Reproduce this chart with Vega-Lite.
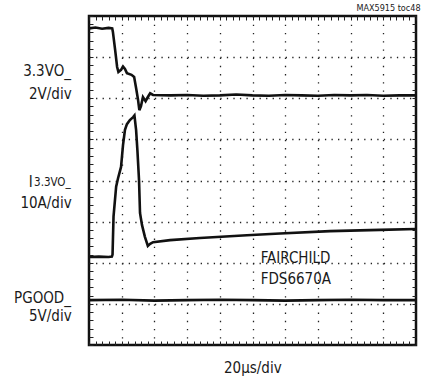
{
  "$schema": "https://vega.github.io/schema/vega-lite/v6.json",
  "width": 327,
  "height": 329,
  "autosize": {"type": "none"},
  "padding": {"left": 89, "top": 16, "right": 5, "bottom": 35},
  "background": "white",
  "config": {
    "view": {"stroke": "#111", "strokeWidth": 2.5},
    "font": "DejaVu Sans Condensed, Roboto",
    "text": {"font": "DejaVu Sans Condensed, Roboto", "color": "#1a1a1a", "baseline": "alphabetic"}
  },
  "layer": [
    {
      "data": {"values": [
        {"s":"V","t":0,"v":7.70},{"s":"V","t":0.2,"v":7.72},{"s":"V","t":0.4,"v":7.69},{"s":"V","t":0.6,"v":7.71},{"s":"V","t":0.71,"v":7.70},
        {"s":"V","t":0.73,"v":7.62},{"s":"V","t":0.80,"v":7.17},{"s":"V","t":0.86,"v":6.76},{"s":"V","t":0.90,"v":6.64},{"s":"V","t":0.98,"v":6.69},
        {"s":"V","t":1.04,"v":6.77},{"s":"V","t":1.10,"v":6.71},{"s":"V","t":1.16,"v":6.61},{"s":"V","t":1.30,"v":6.57},{"s":"V","t":1.38,"v":6.52},
        {"s":"V","t":1.44,"v":6.25},{"s":"V","t":1.50,"v":5.96},{"s":"V","t":1.54,"v":5.71},{"s":"V","t":1.59,"v":5.81},{"s":"V","t":1.65,"v":6.03},
        {"s":"V","t":1.73,"v":5.93},{"s":"V","t":1.80,"v":6.03},{"s":"V","t":1.87,"v":6.12},{"s":"V","t":1.96,"v":6.08},{"s":"V","t":2.5,"v":6.07},
        {"s":"V","t":3,"v":6.08},{"s":"V","t":3.5,"v":6.06},{"s":"V","t":4,"v":6.07},{"s":"V","t":4.5,"v":6.09},{"s":"V","t":5,"v":6.07},
        {"s":"V","t":5.5,"v":6.06},{"s":"V","t":6,"v":6.08},{"s":"V","t":6.5,"v":6.07},{"s":"V","t":7,"v":6.06},{"s":"V","t":7.5,"v":6.08},
        {"s":"V","t":8,"v":6.07},{"s":"V","t":8.5,"v":6.08},{"s":"V","t":9,"v":6.06},{"s":"V","t":9.5,"v":6.07},{"s":"V","t":10,"v":6.07},
        {"s":"I","t":0,"v":2.14},{"s":"I","t":0.3,"v":2.15},{"s":"I","t":0.6,"v":2.14},{"s":"I","t":0.70,"v":2.15},{"s":"I","t":0.72,"v":2.2},
        {"s":"I","t":0.75,"v":3.12},{"s":"I","t":0.83,"v":3.85},{"s":"I","t":0.89,"v":4.06},{"s":"I","t":0.98,"v":4.33},{"s":"I","t":1.04,"v":4.86},
        {"s":"I","t":1.10,"v":5.23},{"s":"I","t":1.16,"v":5.37},{"s":"I","t":1.25,"v":5.47},{"s":"I","t":1.35,"v":5.54},{"s":"I","t":1.39,"v":5.58},
        {"s":"I","t":1.44,"v":5.23},{"s":"I","t":1.48,"v":4.74},{"s":"I","t":1.53,"v":4.01},{"s":"I","t":1.56,"v":3.21},{"s":"I","t":1.62,"v":2.92},
        {"s":"I","t":1.71,"v":2.63},{"s":"I","t":1.80,"v":2.41},{"s":"I","t":1.87,"v":2.46},{"s":"I","t":1.96,"v":2.50},{"s":"I","t":2.48,"v":2.55},
        {"s":"I","t":3.39,"v":2.60},{"s":"I","t":4.83,"v":2.67},{"s":"I","t":5.84,"v":2.71},{"s":"I","t":7.37,"v":2.77},{"s":"I","t":8.90,"v":2.80},
        {"s":"I","t":10,"v":2.82},
        {"s":"P","t":0,"v":1.09},{"s":"P","t":1,"v":1.10},{"s":"P","t":2,"v":1.08},{"s":"P","t":3,"v":1.09},{"s":"P","t":4,"v":1.10},
        {"s":"P","t":5,"v":1.09},{"s":"P","t":6,"v":1.08},{"s":"P","t":7,"v":1.09},{"s":"P","t":8,"v":1.10},{"s":"P","t":9,"v":1.09},{"s":"P","t":10,"v":1.09}
      ]},
      "mark": {"type": "line", "color": "#111", "strokeWidth": 2.6, "interpolate": "linear"},
      "encoding": {
        "x": {"field": "t", "type": "quantitative", "scale": {"domain": [0, 10], "nice": false, "zero": false},
          "axis": {"orient": "bottom", "title": null, "labels": false, "domain": false,
            "values": [0,0.2,0.4,0.6,0.8,1,1.2,1.4,1.6,1.8,2,2.2,2.4,2.6,2.8,3,3.2,3.4,3.6,3.8,4,4.2,4.4,4.6,4.8,5,5.2,5.4,5.6,5.8,6,6.2,6.4,6.6,6.8,7,7.2,7.4,7.6,7.8,8,8.2,8.4,8.6,8.8,9,9.2,9.4,9.6,9.8,10],
            "ticks": true, "tickSize": -4, "tickColor": "#222", "tickWidth": 1,
            "grid": true, "gridColor": "#222", "gridWidth": 1.3, "gridDash": [1.3, 6.925],
            "gridOpacity": {"expr": "abs(datum.value - round(datum.value)) < 0.01 && datum.value > 0.5 && datum.value < 9.5 ? 1 : 0"}}},
        "y": {"field": "v", "type": "quantitative", "scale": {"domain": [0, 8], "nice": false, "zero": false},
          "axis": {"orient": "left", "title": null, "labels": false, "domain": false,
            "values": [0,0.2,0.4,0.6,0.8,1,1.2,1.4,1.6,1.8,2,2.2,2.4,2.6,2.8,3,3.2,3.4,3.6,3.8,4,4.2,4.4,4.6,4.8,5,5.2,5.4,5.6,5.8,6,6.2,6.4,6.6,6.8,7,7.2,7.4,7.6,7.8,8],
            "ticks": true, "tickSize": -4, "tickColor": "#222", "tickWidth": 1,
            "grid": true, "gridColor": "#222", "gridWidth": 1.3, "gridDash": [1.3, 5.24],
            "gridOpacity": {"expr": "abs(datum.value - round(datum.value)) < 0.01 && datum.value > 0.5 && datum.value < 7.5 ? 1 : 0"}}},
        "detail": {"field": "s", "type": "nominal"}
      }
    },
    {
      "data": {"values": [
        {"label": "3.3VO_", "t": -0.55, "v": 6.54},
        {"label": "2V/div", "t": -0.53, "v": 5.98},
        {"label": "10A/div", "t": -0.53, "v": 3.33},
        {"label": "PGOOD_", "t": -0.55, "v": 1.01},
        {"label": "5V/div", "t": -0.53, "v": 0.59}
      ]},
      "mark": {"type": "text", "align": "right", "fontSize": 15},
      "encoding": {
        "x": {"field": "t", "type": "quantitative", "axis": null},
        "y": {"field": "v", "type": "quantitative", "axis": null},
        "text": {"field": "label"}
      }
    },
    {
      "data": {"values": [{"label": "3.3VO_", "t": -0.56, "v": 3.86}]},
      "mark": {"type": "text", "align": "right", "fontSize": 11.5},
      "encoding": {
        "x": {"field": "t", "type": "quantitative", "axis": null},
        "y": {"field": "v", "type": "quantitative", "axis": null},
        "text": {"field": "label"}
      }
    },
    {
      "data": {"values": [
        {"label": "I", "t": -1.84, "v": 3.84},
        {"label": "FAIRCHILD", "t": 5.25, "v": 2.0},
        {"label": "FDS6670A", "t": 5.25, "v": 1.48}
      ]},
      "mark": {"type": "text", "align": "left", "fontSize": 15},
      "encoding": {
        "x": {"field": "t", "type": "quantitative", "axis": null},
        "y": {"field": "v", "type": "quantitative", "axis": null},
        "text": {"field": "label"}
      }
    },
    {
      "data": {"values": [{"label": "20µs/div", "t": 5.01, "v": -0.69}]},
      "mark": {"type": "text", "align": "center", "fontSize": 15},
      "encoding": {
        "x": {"field": "t", "type": "quantitative", "axis": null},
        "y": {"field": "v", "type": "quantitative", "axis": null},
        "text": {"field": "label"}
      }
    },
    {
      "data": {"values": [{"label": "MAX5915 toc48", "t": 10.14, "v": 8.13}]},
      "mark": {"type": "text", "align": "right", "fontSize": 9},
      "encoding": {
        "x": {"field": "t", "type": "quantitative",
          "axis": {"orient": "top", "title": null, "labels": false, "domain": false, "grid": false,
            "values": [0,0.2,0.4,0.6,0.8,1,1.2,1.4,1.6,1.8,2,2.2,2.4,2.6,2.8,3,3.2,3.4,3.6,3.8,4,4.2,4.4,4.6,4.8,5,5.2,5.4,5.6,5.8,6,6.2,6.4,6.6,6.8,7,7.2,7.4,7.6,7.8,8,8.2,8.4,8.6,8.8,9,9.2,9.4,9.6,9.8,10],
            "ticks": true, "tickSize": -4, "tickColor": "#222", "tickWidth": 1}},
        "y": {"field": "v", "type": "quantitative",
          "axis": {"orient": "right", "title": null, "labels": false, "domain": false, "grid": false,
            "values": [0,0.2,0.4,0.6,0.8,1,1.2,1.4,1.6,1.8,2,2.2,2.4,2.6,2.8,3,3.2,3.4,3.6,3.8,4,4.2,4.4,4.6,4.8,5,5.2,5.4,5.6,5.8,6,6.2,6.4,6.6,6.8,7,7.2,7.4,7.6,7.8,8],
            "ticks": true, "tickSize": -4, "tickColor": "#222", "tickWidth": 1}},
        "text": {"field": "label"}
      }
    }
  ]
}
